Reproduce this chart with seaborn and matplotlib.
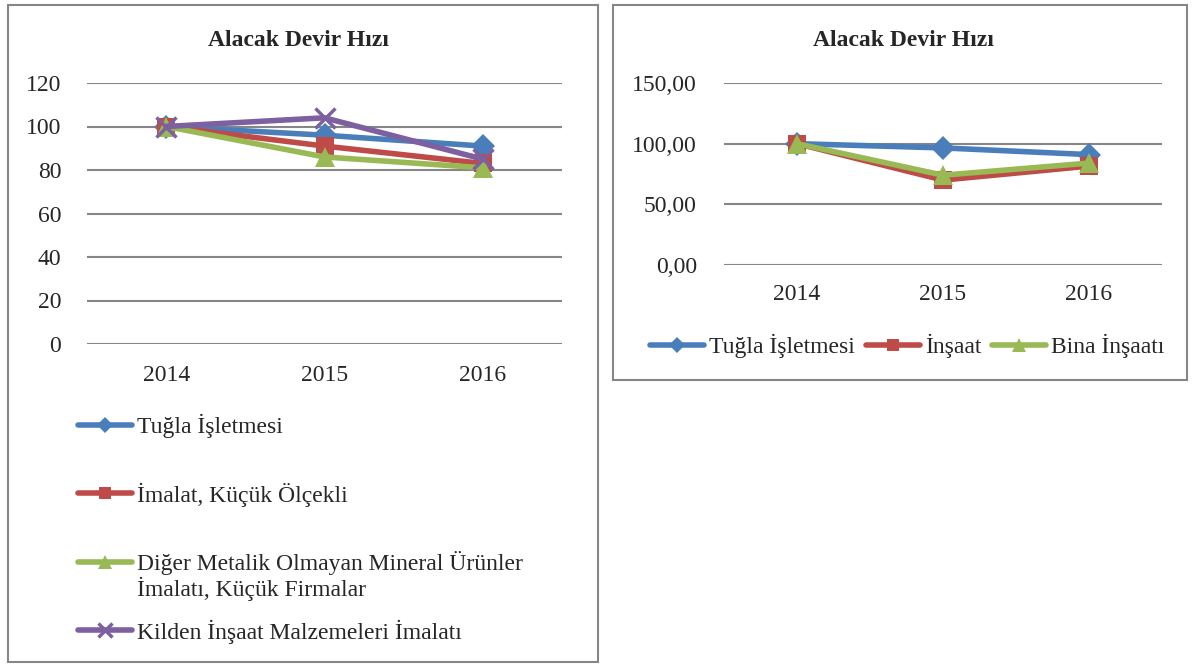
import numpy as np
import pandas as pd
import seaborn as sns
import matplotlib.pyplot as plt
from matplotlib.patches import Rectangle
from matplotlib.ticker import FuncFormatter

years = ['2014', '2015', '2016']

# left panel
left_names = ['Tuğla İşletmesi', 'İmalat, Küçük Ölçekli',
              'Diğer Metalik Olmayan Mineral Ürünler', 'Kilden İnşaat Malzemeleri İmalatı']
tugla_l = [100, 96, 91]
imalat_l = [100, 91, 83]
diger_l = [100, 86, 81]
kilden_l = [100, 104, 85]

# right panel
right_names = ['Tuğla İşletmesi', 'İnşaat', 'Bina İnşaatı']
tugla_r = [100, 96.5, 91]
insaat_r = [100, 70, 81.5]
bina_r = [100, 74, 84]

colors = ['#4A7EBB', '#BE4B48', '#98B954', '#7D60A0']
markers = ['D', 's', '^', 'x']
msizes = [12, 13, 14, 14]

sns.set_theme(style='white')
plt.rcParams['font.family'] = ['Liberation Serif', 'DejaVu Serif']
FS = 17
grid_c = '#868686'

fig = plt.figure(figsize=(11.92, 6.64), dpi=100)
W, H = 1192, 664


def fx(px):
    return px / W


def fy(py):
    return 1 - py / H


# panel frames
fig.patches.append(Rectangle((fx(8), fy(662)), fx(590), 657 / H, transform=fig.transFigure,
                             fill=False, edgecolor=grid_c, linewidth=1.5))
fig.patches.append(Rectangle((fx(613), fy(380)), fx(574), 375 / H, transform=fig.transFigure,
                             fill=False, edgecolor=grid_c, linewidth=1.5))


def style_axes(ax, ymax, step, fmt, ypad, xpad):
    ax.set_xlim(-0.5, 2.5)
    ax.set_ylim(0, ymax)
    ax.set_yticks(np.arange(0, ymax + 0.1, step))
    ax.yaxis.set_major_formatter(FuncFormatter(fmt))
    ax.grid(axis='y', color=grid_c, linewidth=1.5)
    ax.grid(axis='x', visible=False)
    for s in ax.spines.values():
        s.set_visible(False)
    ax.tick_params(axis='y', length=0, pad=ypad, labelsize=FS)
    ax.tick_params(axis='x', length=0, pad=xpad, labelsize=FS)
    ax.set_xlabel('')
    ax.set_ylabel('')


def draw(ax, series, names):
    for i, (vals, name) in enumerate(zip(series, names)):
        df = pd.DataFrame({'year': years, 'value': vals})
        mew = 2.5 if markers[i] == 'x' else 0
        sns.lineplot(data=df, x='year', y='value', ax=ax, color=colors[i], marker=markers[i],
                     markersize=msizes[i], markeredgewidth=mew, markeredgecolor=colors[i],
                     linewidth=4, label=name, sort=False)


# left chart
ax1 = fig.add_axes([fx(87), fy(344), fx(475), 261 / H])
draw(ax1, [tugla_l, imalat_l, diger_l, kilden_l], left_names)
style_axes(ax1, 120, 20, lambda v, p: f'{v:.0f}', 18.5, 15)
ax1.legend(loc='upper left', bbox_to_anchor=(fx(78), fy(414)), bbox_transform=fig.transFigure,
           frameon=False, fontsize=FS, handlelength=2.3, handletextpad=0.2,
           labelspacing=1.88, borderaxespad=0, borderpad=0, markerscale=0.7)
fig.text(fx(137), fy(589), 'İmalatı, Küçük Firmalar', fontsize=FS, va='center', ha='left')
fig.text(fx(298), fy(41), 'Alacak Devir Hızı', fontsize=FS, fontweight='bold', ha='center', va='center')

# right chart
ax2 = fig.add_axes([fx(724), fy(265), fx(438), 182 / H])
draw(ax2, [tugla_r, insaat_r, bina_r], right_names)
style_axes(ax2, 150, 50, lambda v, p: f'{v:.2f}'.replace('.', ','), 19.5, 14)
ax2.legend(loc='center', bbox_to_anchor=(fx(907), fy(346)), bbox_transform=fig.transFigure,
           ncol=3, frameon=False, fontsize=FS, handlelength=2.3, handletextpad=0.2,
           columnspacing=0.45, borderaxespad=0, borderpad=0, markerscale=0.7)
fig.text(fx(903), fy(41), 'Alacak Devir Hızı', fontsize=FS, fontweight='bold', ha='center', va='center')

fig.savefig('out.png', dpi=100)
